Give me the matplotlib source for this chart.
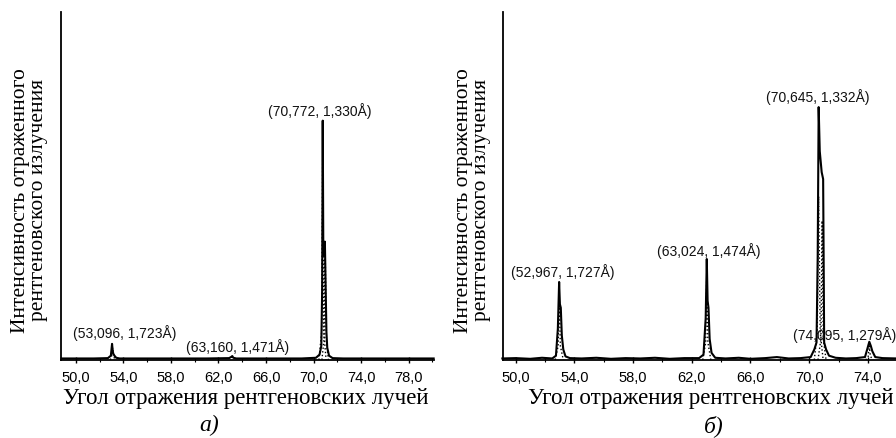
import matplotlib
matplotlib.use("Agg")
import matplotlib.pyplot as plt
from matplotlib.ticker import MultipleLocator, FixedLocator

# ---- data (intensity as fraction of axis height) ----
# panel a): measured pattern
angle_a = [48.8, 50.0, 51.5, 52.7, 52.95, 53.05, 53.1, 53.15, 53.25, 53.4, 53.7,
           55.0, 57.0, 59.0, 61.0, 62.9, 63.1, 63.16, 63.25, 63.5, 65.0, 67.0,
           69.0, 70.2, 70.5, 70.65, 70.72, 70.77, 70.82, 70.88, 70.95, 71.02,
           71.08, 71.15, 71.3, 71.6, 72.5, 74.0, 76.0, 78.0, 80.1]
inten_a = [0.004, 0.004, 0.004, 0.005, 0.012, 0.046, 0.028, 0.018, 0.012, 0.006, 0.004,
           0.004, 0.004, 0.004, 0.004, 0.005, 0.009, 0.011, 0.006, 0.004, 0.004, 0.004,
           0.004, 0.006, 0.015, 0.04, 0.20, 0.688, 0.30, 0.33, 0.34, 0.20,
           0.08, 0.035, 0.012, 0.005, 0.004, 0.004, 0.004, 0.004, 0.004]
# panel a): fitted components (dotted)
comp_a = [
    ([52.9, 53.02, 53.096, 53.17, 53.3], [0.0, 0.012, 0.035, 0.012, 0.0]),
    ([70.45, 70.68, 70.772, 70.86, 71.05], [0.0, 0.08, 0.62, 0.08, 0.0]),
    ([70.7, 70.88, 70.97, 71.06, 71.25], [0.0, 0.06, 0.34, 0.06, 0.0]),
]

# panel б): measured pattern
angle_b = [49.1, 50.0, 51.0, 51.8, 52.5, 52.75, 52.88, 52.967, 53.02, 53.08, 53.15,
           53.25, 53.4, 53.7, 54.5, 55.5, 56.5, 57.5, 58.5, 59.5, 60.5, 61.5,
           62.5, 62.8, 62.95, 63.024, 63.08, 63.14, 63.22, 63.35, 63.6, 64.3,
           65.2, 66.0, 67.0, 67.8, 68.6, 69.4, 70.1, 70.35, 70.5, 70.58, 70.645,
           70.72, 70.85, 70.95, 71.02, 71.15, 71.35, 71.8, 72.5, 73.2, 73.8,
           73.95, 74.095, 74.2, 74.3, 74.5, 75.0, 76.0, 77.5]
inten_b = [0.004, 0.005, 0.003, 0.006, 0.004, 0.012, 0.09, 0.224, 0.16, 0.15, 0.07,
           0.03, 0.01, 0.005, 0.004, 0.006, 0.003, 0.005, 0.004, 0.006, 0.003, 0.005,
           0.005, 0.015, 0.12, 0.29, 0.17, 0.15, 0.06, 0.02, 0.006, 0.004,
           0.006, 0.003, 0.005, 0.008, 0.004, 0.005, 0.008, 0.03, 0.05, 0.30, 0.727,
           0.60, 0.54, 0.52, 0.05, 0.03, 0.012, 0.006, 0.004, 0.005, 0.008,
           0.03, 0.052, 0.04, 0.025, 0.008, 0.005, 0.004, 0.004]
# panel б): fitted components (dotted)
comp_b = [
    ([52.7, 52.9, 52.967, 53.05, 53.25], [0.0, 0.04, 0.19, 0.04, 0.0]),
    ([62.75, 62.95, 63.024, 63.1, 63.3], [0.0, 0.05, 0.25, 0.05, 0.0]),
    ([70.35, 70.55, 70.645, 70.75, 70.95], [0.0, 0.08, 0.47, 0.08, 0.0]),
    ([70.6, 70.8, 70.88, 70.96, 71.15], [0.0, 0.06, 0.40, 0.06, 0.0]),
    ([73.85, 74.02, 74.095, 74.17, 74.35], [0.0, 0.01, 0.04, 0.01, 0.0]),
]

labels_a = ["(53,096, 1,723Å)", "(63,160, 1,471Å)", "(70,772, 1,330Å)"]
labels_b = ["(52,967, 1,727Å)", "(63,024, 1,474Å)", "(70,645, 1,332Å)", "(74,095, 1,279Å)"]
# where each label sits (x in degrees, y as axis fraction)
label_pos_a = [(54.1, 0.080), (63.6, 0.040), (70.55, 0.718)]
label_pos_b = [(53.2, 0.256), (63.17, 0.316), (70.55, 0.759), (72.4, 0.075)]

tick_values = [50, 54, 58, 62, 66, 70, 74, 78]
tick_labels = ["50,0", "54,0", "58,0", "62,0", "66,0", "70,0", "74,0", "78,0"]

xlabel = "Угол отражения рентгеновских лучей"
ylabel = "Интенсивность отраженного\nрентгеновского излучения"

SANS = "Liberation Sans"
SERIF = "Liberation Serif"

fig = plt.figure(figsize=(8.96, 4.39), dpi=100)
ax_a = fig.add_axes([0.068, 0.178, 0.416, 0.792])
ax_b = fig.add_axes([0.561, 0.178, 0.465, 0.792])


def style_axes(ax, xlim):
    ax.set_xlim(*xlim)
    ax.set_ylim(0, 1)
    for side in ("top", "right"):
        ax.spines[side].set_visible(False)
    for side in ("left", "bottom"):
        ax.spines[side].set_linewidth(1.3)
    ax.set_yticks([])
    ax.xaxis.set_major_locator(FixedLocator(tick_values))
    ax.set_xticklabels(tick_labels, fontfamily=SANS, fontsize=10.5)
    ax.xaxis.set_minor_locator(MultipleLocator(2))
    ax.tick_params(axis="x", which="major", direction="inout", length=4, width=1, pad=5)
    ax.tick_params(axis="x", which="minor", direction="inout", length=3, width=0.8)


for ax, x, y, comps, labs, pos, xlim in [
    (ax_a, angle_a, inten_a, comp_a, labels_a, label_pos_a, (48.75, 80.1)),
    (ax_b, angle_b, inten_b, comp_b, labels_b, label_pos_b, (49.12, 77.5)),
]:
    ax.plot(x, y, color="black", linewidth=1.5, clip_on=False)
    for cx, cy in comps:
        ax.plot(cx, cy, color="black", linestyle=":", linewidth=1.0)
    for text, (px, py) in zip(labs, pos):
        ax.text(px, py, text, ha="center", va="center",
                fontfamily=SANS, fontsize=10, color="#111111")
    style_axes(ax, xlim)

# axis titles and panel letters
for xc, yl_x, letter_x, letter in [(0.2746, 0.033, 0.234, "а)"),
                                   (0.7935, 0.527, 0.797, "б)")]:
    fig.text(xc, 0.080, xlabel, ha="center", va="baseline",
             fontfamily=SERIF, fontsize=16.5)
    fig.text(yl_x, 0.544, ylabel, ha="center", va="center", rotation=90,
             fontfamily=SERIF, fontsize=15.5, linespacing=0.95)
    fig.text(letter_x, 0.030, letter, ha="center", va="center",
             fontfamily=SERIF, fontsize=17, style="italic")

fig.savefig("out.png", dpi=100)
